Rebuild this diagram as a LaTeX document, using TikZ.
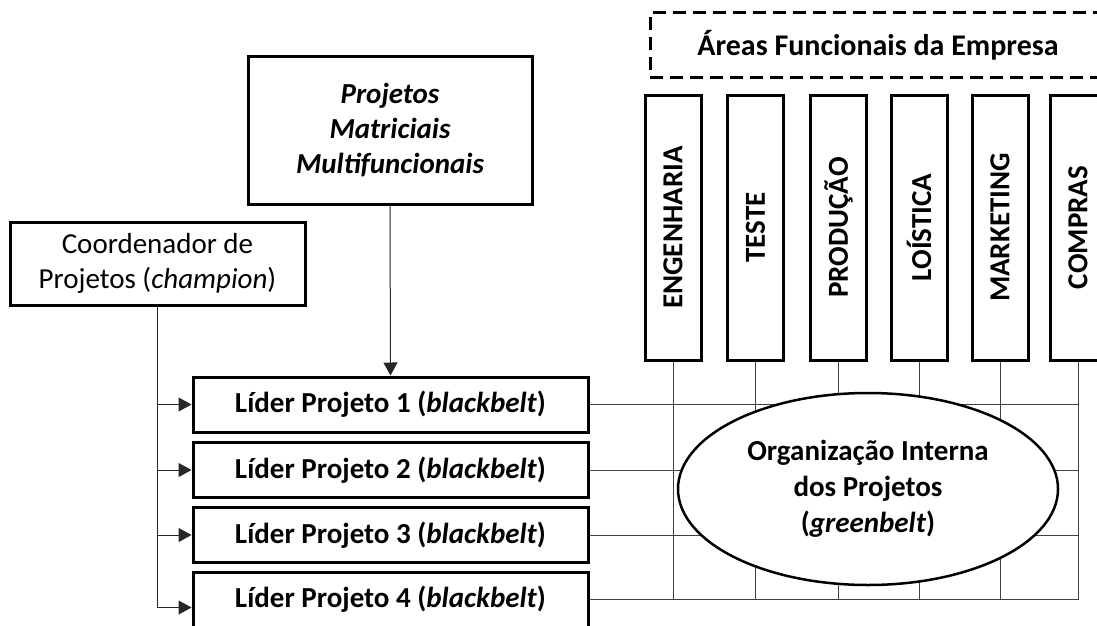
\documentclass[tikz,border=0pt]{standalone}
\usepackage{fontspec}
\setmainfont{Carlito}
\usetikzlibrary{arrows.meta,shapes.geometric,calc}
\tikzset{
  box/.style={draw, line width=3pt, fill=white, inner sep=0pt, align=center,
    font=\fontsize{29}{35}\selectfont},
  lider/.style={box, minimum width=395pt, minimum height=55pt, font=\fontsize{29}{35}\selectfont\bfseries},
  vbox/.style={box, minimum width=56pt, minimum height=265pt, font=\fontsize{29}{35}\selectfont\bfseries},
  dashbox/.style={draw, line width=3pt, dash pattern=on 13pt off 7pt, inner sep=0pt,
    minimum width=456pt, minimum height=64pt, font=\fontsize{30}{35}\selectfont\bfseries},
  oval/.style={ellipse, draw, line width=2.5pt, fill=white, inner sep=0pt,
    minimum width=380pt, minimum height=192pt, align=center, font=\fontsize{29}{36}\selectfont\bfseries},
  grid/.style={line width=1pt, black!75},
  arr/.style={line width=1pt, black!85, -{Triangle[length=13pt,width=14pt]}},
}
\begin{document}
\begin{tikzpicture}[x=1pt,y=-1pt]
\useasboundingbox (0,0) rectangle (1097,626);
\clip (0,0) rectangle (1097,626);
\fill[white] (0,0) rectangle (1097,626);

% top dashed box
\node[dashbox] (areas) at (878,45) {Áreas Funcionais da Empresa};

% functional area boxes
\node[vbox] (eng) at (673,227.5) {\rotatebox{90}{ENGENHARIA}};
\node[vbox] (tes) at (755.5,227.5) {\rotatebox{90}{TESTE}};
\node[vbox] (pro) at (838.5,227.5) {\rotatebox{90}{PRODUÇÃO}};
\node[vbox] (log) at (919,227.5) {\rotatebox{90}{LOÍSTICA}};
\node[vbox] (mkt) at (1000,227.5) {\rotatebox{90}{MARKETING}};
\node[vbox] (com) at (1078,227.5) {\rotatebox{90}{COMPRAS}};

% left boxes
\node[box, minimum width=284pt, minimum height=147pt, font=\fontsize{29}{35}\selectfont\bfseries\itshape] (proj) at (390,130.5)
  {Projetos\\Matriciais\\Multifuncionais};
\node[box, minimum width=295pt, minimum height=83pt] (coord) at (157.5,263.5)
  {Coordenador de\\Projetos (\textit{champion})};

\node[lider] (l1) at (390.5,404.5) {Líder Projeto 1 (\textit{blackbelt})};
\node[lider] (l2) at (390.5,470) {Líder Projeto 2 (\textit{blackbelt})};
\node[lider] (l3) at (390.5,535) {Líder Projeto 3 (\textit{blackbelt})};
\node[lider] (l4) at (390.5,599.5) {Líder Projeto 4 (\textit{blackbelt})};

% grid lines
\foreach \b in {eng,tes,pro,log,mkt,com}{
  \draw[grid] (\b.south) -- (\b.south |- l4.east);
}
\foreach \l in {l1,l2,l3,l4}{
  \draw[grid] (\l.east) -- (\l.east -| com.south);
}

% ellipse
\node[oval] (org) at (868,489) {Organização Interna\\dos Projetos\\(\textit{greenbelt})};

% arrows
\draw[arr] (proj.south) -- (l1.north);
\draw[arr] (coord.south) |- ([yshift=-8pt]l4.west);
\draw[arr] (coord.south |- l1.west) -- (l1.west);
\draw[arr] (coord.south |- l2.west) -- (l2.west);
\draw[arr] (coord.south |- l3.west) -- (l3.west);
\end{tikzpicture}
\end{document}
